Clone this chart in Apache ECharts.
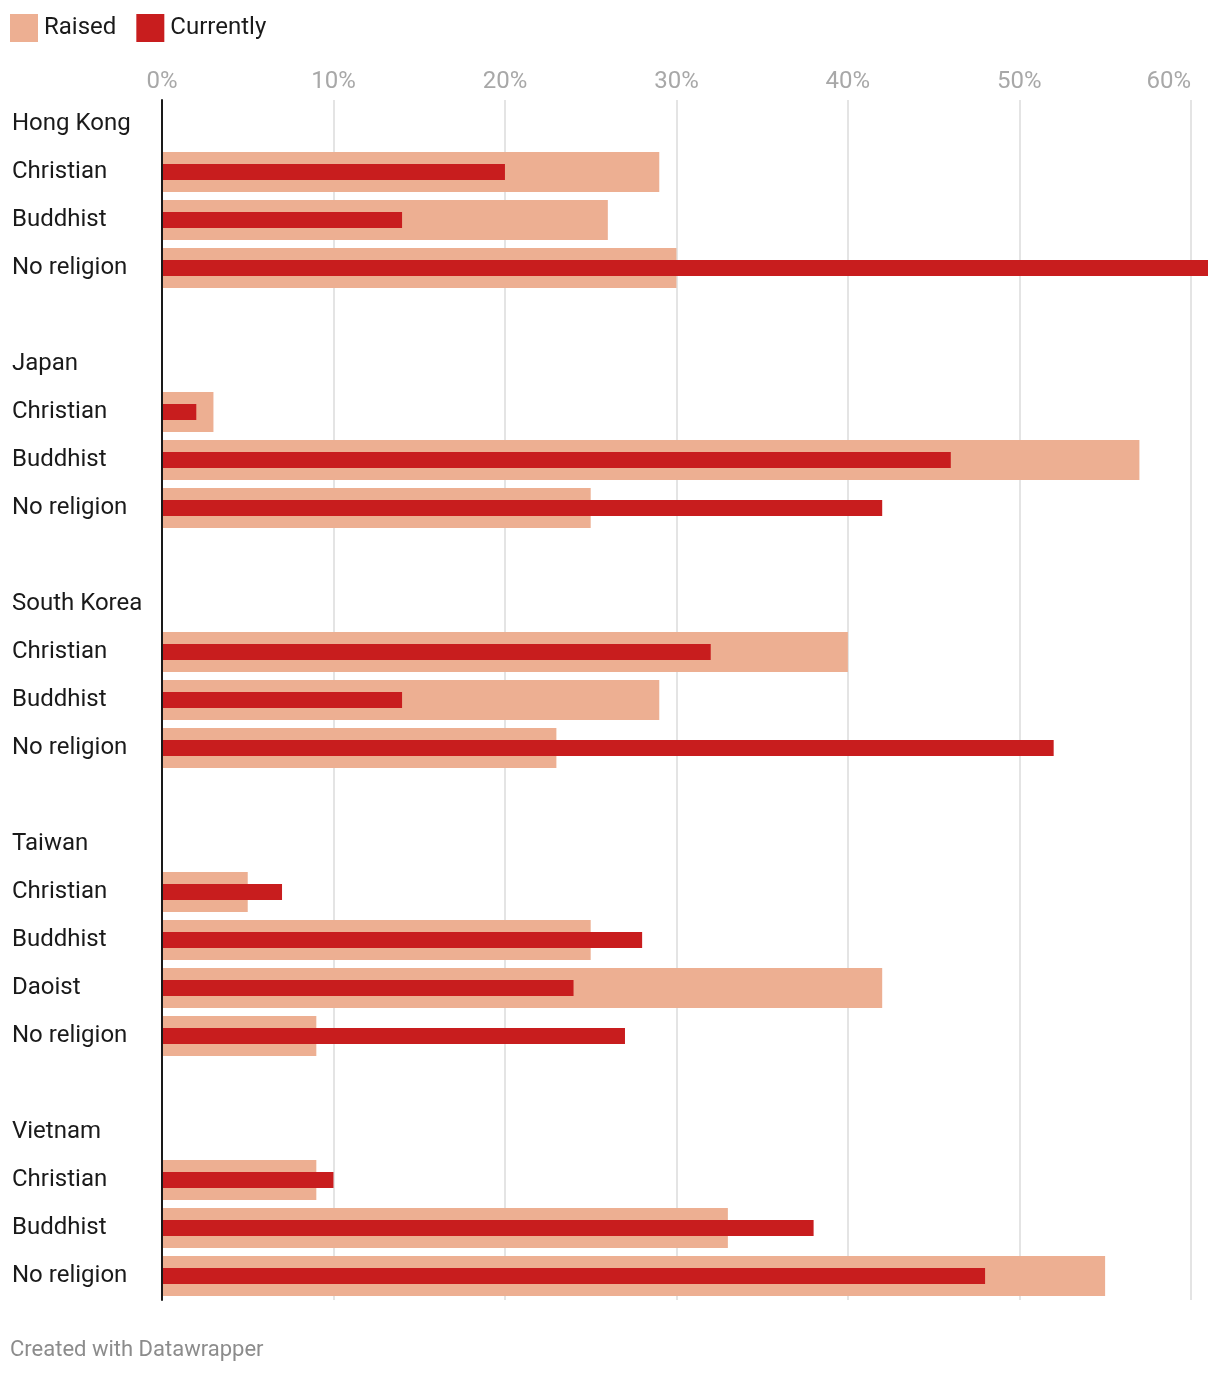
<!DOCTYPE html>
<html>
<head>
<meta charset="utf-8">
<script src="https://cdn.jsdelivr.net/npm/echarts@6/dist/echarts.min.js"></script>
<style>
  html, body { margin: 0; padding: 0; background: #fff; }
  #chart { width: 1220px; height: 1374px; }
</style>
</head>
<body>
<div id="chart"></div>
<script>
const countries = ['Hong Kong', 'Japan', 'South Korea', 'Taiwan', 'Vietnam'];
const religions = [
  ['Christian', 'Buddhist', 'No religion'],
  ['Christian', 'Buddhist', 'No religion'],
  ['Christian', 'Buddhist', 'No religion'],
  ['Christian', 'Buddhist', 'Daoist', 'No religion'],
  ['Christian', 'Buddhist', 'No religion']
];
const raised = [
  [29, 26, 30],
  [3, 57, 25],
  [40, 29, 23],
  [5, 25, 42, 9],
  [9, 33, 55]
];
const currently = [
  [20, 14, 61],
  [2, 46, 42],
  [32, 14, 52],
  [7, 28, 24, 27],
  [10, 38, 48]
];
const seriesNames = ['Raised', 'Currently'];
const axisMax = 61;
const tickStep = 10;
const lastTick = 60;

// Build rows: country header, religion rows, blank spacer between groups
const rowLabels = [];
const raisedRows = [];
const currentRows = [];
countries.forEach((c, i) => {
  rowLabels.push(c); raisedRows.push(null); currentRows.push(null);
  religions[i].forEach((r, j) => {
    rowLabels.push(r);
    raisedRows.push(raised[i][j]);
    currentRows.push(currently[i][j]);
  });
  if (i < countries.length - 1) {
    rowLabels.push(''); raisedRows.push(null); currentRows.push(null);
  }
});

const chart = echarts.init(document.getElementById('chart'), null, { renderer: 'canvas' });
const FONT = 'Roboto, "Noto Sans", sans-serif';
chart.setOption({
  animation: false,
  backgroundColor: '#ffffff',
  textStyle: { fontFamily: FONT },
  legend: {
    left: 10, top: 14, padding: 0,
    itemWidth: 28, itemHeight: 28, itemGap: 20,
    icon: 'rect',
    textStyle: { fontSize: 24, color: '#1a1a1a', fontFamily: FONT, padding: [0, 0, 0, 1] },
    data: seriesNames
  },
  grid: { left: 162, right: 12, top: 100, bottom: 74, containLabel: false },
  xAxis: {
    type: 'value', position: 'top',
    min: 0, max: axisMax, interval: tickStep,
    axisLine: { show: false },
    axisTick: { show: false },
    axisLabel: {
      formatter: function (v) {
        return v === lastTick ? '{last|' + v + '%}' : v + '%';
      },
      rich: { last: { fontSize: 24, color: '#a8a8a8', fontFamily: FONT, padding: [0, 44, 0, 0] } },
      fontSize: 24, color: '#a8a8a8', margin: 6,
      fontFamily: FONT, showMaxLabel: false
    },
    splitLine: { show: true, showMaxLine: false, lineStyle: { color: '#e4e4e4', width: 2 } }
  },
  yAxis: [
    {
      type: 'category', inverse: true,
      data: rowLabels,
      axisLine: { show: true, lineStyle: { color: '#1a1a1a', width: 2 } },
      axisTick: { show: false },
      axisLabel: { align: 'left', margin: 150, fontSize: 24, color: '#1a1a1a', fontFamily: FONT, interval: 0, padding: [2, 0, 0, 0] },
      splitLine: { show: false },
      z: 5
    },
    {
      type: 'category', inverse: true, position: 'left',
      data: rowLabels, show: false
    }
  ],
  series: [
    {
      name: seriesNames[0], type: 'bar', data: raisedRows, yAxisIndex: 0,
      barWidth: 40,
      itemStyle: { color: '#EDAF92' }, z: 1
    },
    {
      name: seriesNames[1], type: 'bar', data: currentRows, yAxisIndex: 1,
      barWidth: 16,
      itemStyle: { color: '#C81D1E' }, z: 2
    }
  ],
  graphic: [
    {
      type: 'text', left: 10, top: 1339,
      style: { text: 'Created with Datawrapper', fontSize: 22, fill: '#8c8c8c', fontFamily: FONT }
    }
  ]
});
</script>
</body>
</html>
